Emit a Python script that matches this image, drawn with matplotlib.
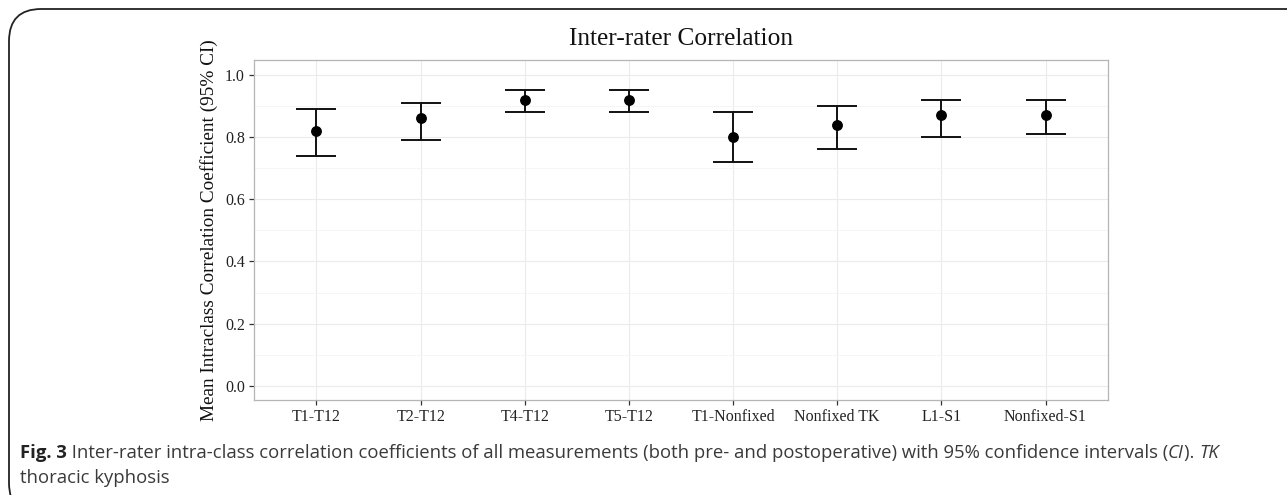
import numpy as np
import matplotlib
matplotlib.use("Agg")
import matplotlib.pyplot as plt
from matplotlib.patches import FancyBboxPatch

# data
labels = ["T1-T12", "T2-T12", "T4-T12", "T5-T12", "T1-Nonfixed", "Nonfixed TK", "L1-S1", "Nonfixed-S1"]
icc = [0.82, 0.86, 0.92, 0.92, 0.80, 0.84, 0.87, 0.87]
ci_low = [0.74, 0.79, 0.88, 0.88, 0.72, 0.76, 0.80, 0.81]
ci_high = [0.89, 0.91, 0.95, 0.95, 0.88, 0.90, 0.92, 0.92]
yticks = [0.0, 0.2, 0.4, 0.6, 0.8, 1.0]

W, H = 1287, 495
fig = plt.figure(figsize=(W / 100, H / 100), dpi=100)

serif = "Liberation Serif"

# panel placed in pixel coords
l, r, t, b = 254, 1108, 60, 400
ax = fig.add_axes([l / W, (H - b) / H, (r - l) / W, (b - t) / H])

x = np.arange(1, len(labels) + 1)
icc = np.array(icc)
lo = icc - np.array(ci_low)
hi = np.array(ci_high) - icc
ax.errorbar(x, icc, yerr=[lo, hi], fmt="none", ecolor="#111111", elinewidth=1.4,
            capsize=14.5, capthick=1.4, zorder=3)
ax.plot(x, icc, "o", color="black", markersize=6.8, zorder=4)

ax.set_xlim(0.4, len(labels) + 0.6)
ax.set_ylim(-0.0455, 1.0475)
ax.set_xticks(x)
ax.set_xticklabels(labels, fontfamily=serif, fontsize=11.5)
ax.set_yticks(yticks)
ax.set_yticklabels(["%.1f" % v for v in yticks], fontfamily=serif, fontsize=11.5)
ax.set_yticks(np.arange(0.1, 1.0, 0.2), minor=True)
ax.grid(True, which="major", color="#ebebeb", linewidth=0.8)
ax.grid(True, which="minor", axis="y", color="#f4f4f4", linewidth=0.6)
ax.set_axisbelow(True)
ax.tick_params(axis="both", which="major", length=3.5, width=0.9, color="#333333",
               labelcolor="#222222", pad=3)
ax.tick_params(axis="both", which="minor", length=0)
for s in ax.spines.values():
    s.set_color("#b5b5b5")
    s.set_linewidth(0.9)

ax.set_title("Inter-rater Correlation", fontfamily=serif, fontsize=18.3, pad=11, color="#111111")
ax.set_ylabel("Mean Intraclass Correlation Coefficient (95% CI)", fontfamily=serif,
              fontsize=13.9, labelpad=5, color="#111111")

# rounded frame round the whole figure
frame = FancyBboxPatch((9 / W, -20 / H), 1400 / W, (H - 9 + 20) / H,
                       boxstyle="round,pad=0,rounding_size=0.025",
                       transform=fig.transFigure, fill=False, edgecolor="#222222",
                       linewidth=1.3, mutation_aspect=W / H)
fig.patches.append(frame)

# caption with mixed styles
cap = "Open Sans"
ccol = "#3a3a3a"
line1 = [("Fig. 3", "bold", "normal"),
         (" Inter-rater intra-class correlation coefficients of all measurements (both pre- and postoperative) with 95% confidence intervals (", "normal", "normal"),
         ("CI", "normal", "italic"),
         ("). ", "normal", "normal"),
         ("TK", "normal", "italic")]
fig.canvas.draw()
renderer = fig.canvas.get_renderer()
xpos = 20
y1 = H - 458
for txt, wt, st in line1:
    tt = fig.text(xpos / W, y1 / H, txt, fontfamily=cap, fontsize=13.3, fontweight=wt,
                  fontstyle=st, color=ccol if wt == "normal" else "#222222", va="baseline")
    bb = tt.get_window_extent(renderer)
    xpos = bb.x1
fig.text(20 / W, (H - 483) / H, "thoracic kyphosis", fontfamily=cap, fontsize=13.3,
         color=ccol, va="baseline")

fig.savefig("out.png", dpi=100)
